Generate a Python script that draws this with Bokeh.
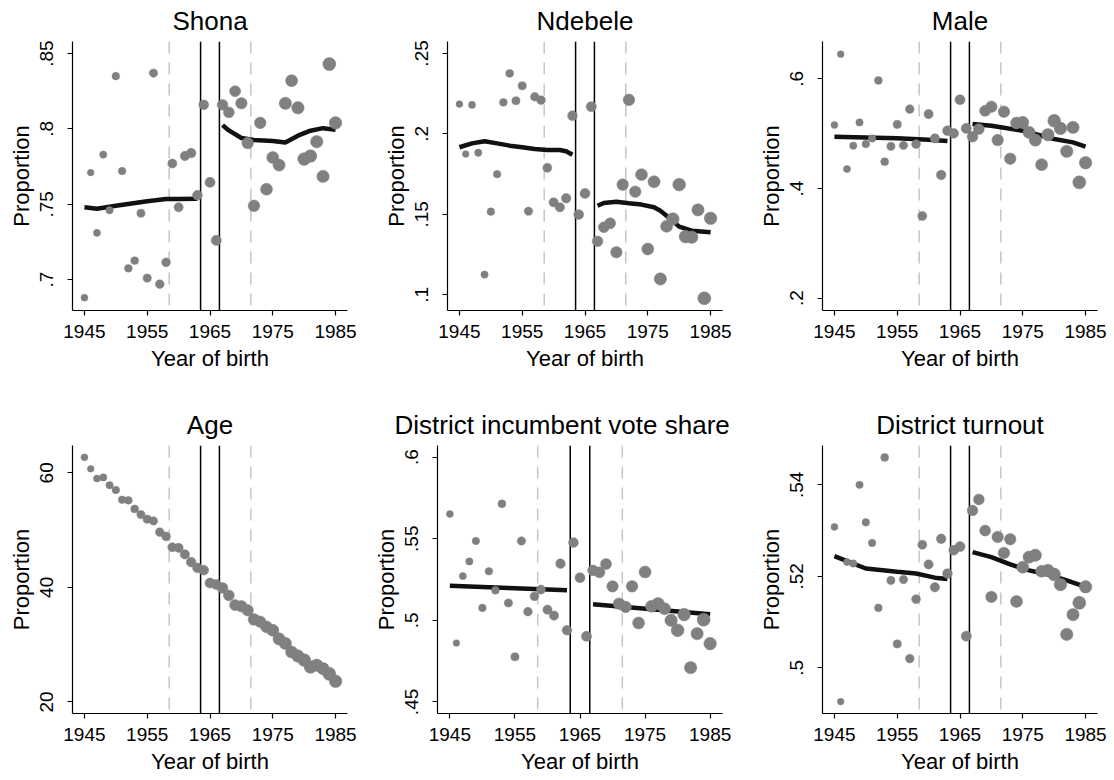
from bokeh.plotting import figure
from bokeh.models import Range1d, Span, FixedTicker, CustomJSTickFormatter
from bokeh.layouts import column, row
from bokeh.embed import file_html
from bokeh.resources import INLINE

# ---------------- data ----------------
years = list(range(1945, 1986))

# approximate respondents per birth cohort (drives marker area)
cohort_n = [40, 37, 42, 44, 45, 48, 47, 50, 52, 55,
            56, 58, 62, 64, 68, 70, 72, 76, 78, 80,
            84, 85, 95, 98, 100, 108, 110, 112, 110, 118,
            120, 122, 125, 120, 128, 135, 132, 128, 125, 140,
            130]

shona = [.688, .771, .731, .783, .746, .835, .772, .7075, .7126, .744,
         .701, .837, .697, .7115, .777, .748, .782, .784, .756, .816,
         .7645, .726, .816, .811, .825, .817, .7906, .749, .804, .760,
         .781, .776, .817, .832, .814, .780, .782, .7915, .7685, .843,
         .804]
ndebele = [.2185, .1875, .218, .1883, .1126, .1517, .175, .2196, .2376, .2206,
           .2299, .152, .2231, .221, .179, .1575, .1544, .160, .2113, .1499,
           .163, .2169, .1333, .142, .1445, .1265, .1685, .2212, .1641, .1747,
           .1285, .1703, .1099, .1426, .1472, .1685, .1362, .1358, .1528, .0979,
           .1476]
male = [.5156, .6449, .4355, .478, .5205, .481, .4913, .597, .4489, .4768,
        .5168, .4786, .5448, .481, .3499, .5357, .4913, .4246, .5053, .5005,
        .5618, .5096, .4944, .5083, .5417, .549, .4883, .5399, .4543, .5193,
        .5205, .5023, .4883, .4434, .498, .5235, .5096, .4677, .5114, .4112,
        .447]
age = [62.7, 60.7, 59.0, 59.2, 57.85, 57.0, 55.3, 55.2, 53.7, 52.7,
       51.9, 51.6, 49.65, 48.9, 47.0, 46.9, 45.75, 44.4, 43.4, 43.0,
       40.75, 40.5, 39.9, 38.6, 36.9, 36.7, 36.0, 34.4, 34.0, 33.1,
       32.5, 31.0, 30.2, 28.7, 28.0, 27.3, 26.1, 26.4, 25.8, 24.9,
       23.6]
vote = [.5651, .4861, .5271, .5361, .5486, .5076, .530, .5184, .5714, .5106,
        .4776, .5486, .5053, .5147, .5188, .5065, .5029, .5347, .4939, .5476,
        .5261, .4902, .5306, .5294, .5345, .5208, .5102, .5082, .5208, .4984,
        .5296, .5086, .5102, .5071, .5000, .4939, .5035, .4710, .4918, .5004,
        .4857]
turnout = [.5308, .4926, .5231, .5228, .5400, .5318, .5273, .5131, .5460, .5191,
           .5052, .5193, .5020, .5150, .5269, .5226, .5176, .5282, .5206, .5257,
           .5265, .5069, .5344, .5368, .5300, .5155, .5286, .5251, .5281, .5145,
           .5220, .5242, .5246, .5211, .5213, .5204, .5182, .5073, .5116, .5142,
           .5177]

# local (lowess) fits, left and right of the cutoff
shona_fit_l = ([1945, 1947, 1950, 1955, 1958, 1960, 1963],
               [.748, .747, .749, .752, .7535, .7535, .7537])
shona_fit_r = ([1967, 1968, 1970, 1972, 1975, 1977, 1979, 1981, 1983, 1985],
               [.8025, .799, .794, .7926, .792, .791, .7955, .7988, .8005, .7994])
ndebele_fit_l = ([1945, 1947, 1949, 1951, 1953, 1955, 1957, 1959, 1961, 1962, 1963],
                 [.1917, .1941, .1954, .1941, .1927, .1917, .1906, .19, .19, .1892, .1871])
ndebele_fit_r = ([1967, 1968, 1970, 1972, 1974, 1976, 1977, 1978, 1980, 1982, 1985],
                 [.1554, .1571, .1579, .1569, .1561, .1544, .1523, .1492, .1424, .1399, .1389])
male_fit_l = ([1945, 1950, 1955, 1960, 1963], [.4944, .493, .4915, .489, .4865])
male_fit_r = ([1967, 1970, 1975, 1978, 1980, 1983, 1985],
              [.5175, .5144, .5053, .4962, .4901, .484, .4762])
vote_fit_l = ([1945, 1954, 1963], [.5212, .5198, .5184])
vote_fit_r = ([1967, 1976, 1985], [.5098, .5068, .5037])
turnout_fit_l = ([1945, 1947, 1950, 1955, 1958, 1961, 1963],
                 [.5244, .5233, .5217, .521, .5206, .5197, .5194])
turnout_fit_r = ([1967, 1970, 1973, 1976, 1979, 1982, 1985],
                 [.5253, .5242, .5226, .5213, .5204, .5191, .5177])

cutoffs = [1963.5, 1966.5]          # solid lines
bandwidth = [1958.5, 1971.5]        # dashed lines

x_ticks = [1945, 1955, 1965, 1975, 1985]
x_lim = (1943.1, 1986.9)

panels = [
    dict(title="Shona", y=shona, ticks=[.7, .75, .8, .85], ylim=(.6795, .858),
         fits=[shona_fit_l, shona_fit_r]),
    dict(title="Ndebele", y=ndebele, ticks=[.1, .15, .2, .25], ylim=(.0903, .2574),
         fits=[ndebele_fit_l, ndebele_fit_r]),
    dict(title="Male", y=male, ticks=[.2, .4, .6], ylim=(.1775, .668),
         fits=[male_fit_l, male_fit_r]),
    dict(title="Age", y=age, ticks=[20, 40, 60], ylim=(17.97, 64.77), fits=[]),
    dict(title="District incumbent vote share", y=vote, ticks=[.45, .5, .55, .6],
         ylim=(.4429, .6071), fits=[vote_fit_l, vote_fit_r]),
    dict(title="District turnout", y=turnout, ticks=[.5, .52, .54], ylim=(.49, .5486),
         fits=[turnout_fit_l, turnout_fit_r]),
]

# geometry (px): width, height, border left/right/top/bottom, title align, title offset
geom = [
    (370, 390, 72, 23, 41, 80, "center", 0),
    (370, 390, 77, 18, 41, 80, "center", 0),
    (372, 390, 82, 15, 41, 80, "center", 0),
    (370, 388, 72, 23, 55, 65, "center", 0),
    (370, 388, 63, 18, 55, 65, "left", -43),
    (372, 388, 82, 15, 55, 65, "center", 0),
]

FONT = "Liberation Sans"
sizes = [1.1 * n ** 0.5 for n in cohort_n]

figs = []
for spec, (w, h, bl, br, bt, bb, talign, toff) in zip(panels, geom):
    p = figure(width=w, height=h, x_range=Range1d(*x_lim), y_range=Range1d(*spec["ylim"]),
               output_backend="svg", toolbar_location=None,
               min_border_left=bl, min_border_right=br, min_border_top=bt, min_border_bottom=bb,
               title=spec["title"])
    p.title.text_font = FONT
    p.title.text_font_size = "26px"
    p.title.text_font_style = "normal"
    p.title.text_color = "black"
    p.title.align = talign
    p.title.vertical_align = "top"
    p.title.standoff = 8
    p.title.offset = toff
    p.outline_line_color = None
    p.background_fill_color = "white"
    p.border_fill_color = "white"
    p.xgrid.visible = False
    p.ygrid.visible = False

    for loc in bandwidth:
        p.add_layout(Span(location=loc, dimension="height", line_color="#c6c6c6",
                          line_width=1.5, line_dash="12 9", level="underlay"))
    for loc in cutoffs:
        p.add_layout(Span(location=loc, dimension="height", line_color="#000000",
                          line_width=1.5, level="underlay"))

    for fx, fy in spec["fits"]:
        p.line(fx, fy, line_color="#111111", line_width=4.5)

    p.scatter(years, spec["y"], size=sizes, fill_color="#808080", line_color="#808080",
              line_width=0.5)

    p.xaxis.ticker = FixedTicker(ticks=x_ticks)
    p.yaxis.ticker = FixedTicker(ticks=spec["ticks"])
    p.yaxis.formatter = CustomJSTickFormatter(
        code="return (Math.round(tick*1000)/1000).toString().replace(/^0\\./, '.');")
    p.xaxis.axis_label = "Year of birth"
    p.yaxis.axis_label = "Proportion"
    for ax in (p.xaxis, p.yaxis):
        ax.axis_label_text_font = FONT
        ax.axis_label_text_font_size = "22px"
        ax.axis_label_text_font_style = "normal"
        ax.axis_label_text_color = "black"
        ax.major_label_text_font = FONT
        ax.major_label_text_font_size = "19px"
        ax.major_label_text_color = "black"
        ax.major_tick_in = 0
        ax.major_tick_out = 5
        ax.minor_tick_in = 0
        ax.minor_tick_out = 0
        ax.axis_line_color = "black"
        ax.axis_line_width = 1.2
        ax.major_tick_line_color = "black"
        ax.major_tick_line_width = 1.2
    p.xaxis.major_label_standoff = 9
    p.xaxis.axis_label_standoff = 5
    p.yaxis.major_label_orientation = "vertical"
    p.yaxis.major_label_standoff = 14
    p.yaxis.axis_label_standoff = 4
    figs.append(p)

layout = column(row(figs[0], figs[1], figs[2]), row(figs[3], figs[4], figs[5]))

open("out.html", "w").write(file_html(layout, INLINE))
